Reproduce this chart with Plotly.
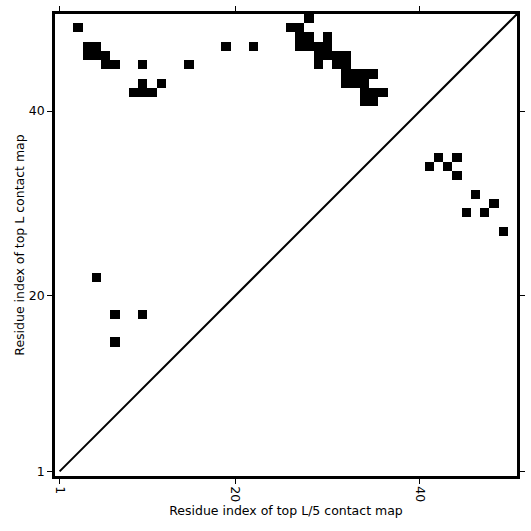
import plotly.graph_objects as go

# Contacts (residue x index, residue y index)
upper_x = [3, 4, 5, 4, 5, 6, 6, 7, 10, 15, 19, 22, 10, 12, 9, 10, 11,
           28, 26, 27, 27, 28, 30, 27, 28, 29, 30, 29, 30, 31, 32, 29, 31, 32,
           32, 33, 34, 35, 32, 33, 34, 34, 35, 36, 34, 35,
           5, 7, 10, 7]
upper_y = [49, 47, 47, 46, 46, 46, 45, 45, 45, 45, 47, 47, 43, 43, 42, 42, 42,
           50, 49, 49, 48, 48, 48, 47, 47, 47, 47, 46, 46, 46, 46, 45, 45, 45,
           44, 44, 44, 44, 43, 43, 43, 42, 42, 42, 41, 41,
           22, 18, 18, 15]
lower_x = [42, 44, 41, 43, 44, 46, 48, 45, 47, 49]
lower_y = [35, 35, 34, 34, 33, 31, 30, 29, 29, 27]

n_res = 50
tick_vals = [1, 20, 40]
tick_text = ["1", "20", "40"]

residues = list(range(1, n_res + 1))
z = [[None] * n_res for _ in range(n_res)]
for xs, ys in ((upper_x, upper_y), (lower_x, lower_y)):
    for a, b in zip(xs, ys):
        z[b - 1][a - 1] = 1

fig = go.Figure()
fig.add_trace(go.Heatmap(
    x=residues, y=residues, z=z,
    colorscale=[[0, "black"], [1, "black"]],
    showscale=False, hoverongaps=False,
))
fig.add_trace(go.Scatter(
    x=[1, n_res + 1], y=[1, n_res + 1], mode="lines",
    line=dict(color="black", width=2), showlegend=False,
))

font = dict(family="DejaVu Sans", size=12.5, color="black")
axis_common = dict(
    showgrid=False, zeroline=False, showline=True, linecolor="black",
    linewidth=2.5, mirror="ticks", ticks="outside", ticklen=5, tickwidth=1,
    tickcolor="black", range=[0.5, n_res + 0.5],
    tickvals=tick_vals, ticktext=tick_text,
    tickfont=font, automargin=False,
)
fig.update_xaxes(**axis_common, tickangle=90,
                 title=dict(text="Residue index of top L/5 contact map",
                            font=font, standoff=6))
fig.update_yaxes(**axis_common,
                 title=dict(text="Residue index of top L contact map",
                            font=font, standoff=2))
fig.update_layout(
    width=531, height=531,
    margin=dict(l=55, r=14, t=14, b=55),
    plot_bgcolor="white", paper_bgcolor="white",
    showlegend=False,
)
fig.write_html("out.html", config={"displayModeBar": False},
               post_script="document.body.style.margin='0';document.body.style.overflow='hidden';")
